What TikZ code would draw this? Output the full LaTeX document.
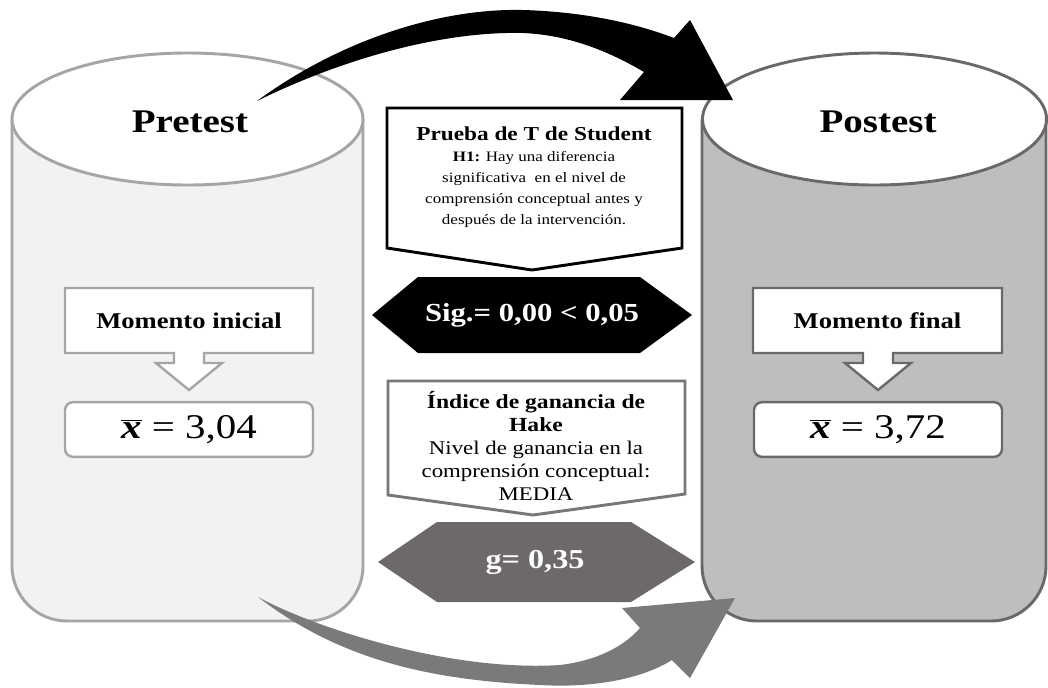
\documentclass[tikz,border=0pt]{standalone}
\usepackage{fontspec}
\setmainfont{Liberation Serif}[FakeStretch=1.18]
\definecolor{lcylfill}{HTML}{F2F2F2}
\definecolor{lcylline}{HTML}{A8A4A4}
\definecolor{rcylfill}{HTML}{BEBEBE}
\definecolor{rcylline}{HTML}{6D6868}
\definecolor{hexgray}{HTML}{6E6969}
\definecolor{arrgray}{HTML}{7A7A7A}
\definecolor{callgray}{HTML}{7A7676}
\begin{document}
\begin{tikzpicture}[x=0.75pt,y=-0.75pt,
  cylL/.style={fill=lcylfill,draw=lcylline,line width=2.2pt},
  cylR/.style={fill=rcylfill,draw=rcylline,line width=2.2pt},
  toptext/.style={font=\bfseries\fontsize{24.8}{28}\selectfont},
  momtext/.style={font=\bfseries\fontsize{16.9}{20}\selectfont},
  valbox/.style={draw=#1,fill=white,line width=1.8pt,rounded corners=6pt,
    minimum width=186pt,minimum height=41pt,inner sep=0pt,
    font=\fontsize{26}{30}\selectfont},
  callbox/.style={fill=white,draw=#1,line width=1.8pt,line join=miter},
  hexwhite/.style={text=white,font=\bfseries\fontsize{19.5}{22}\selectfont}
]
\useasboundingbox (0,0) rectangle (1048,687);

% ---------- left cylinder ----------
\filldraw[cylL,rounded corners=41.25pt] (12,119) -- (12,621) -- (363,621) -- (363,119);
\filldraw[fill=white,draw=lcylline,line width=2.2pt] (187.5,119) ellipse [x radius=175.5, y radius=66];
\node[toptext] (pre) at (190,122) {Pretest};

% ---------- right cylinder ----------
\filldraw[cylR,rounded corners=41.25pt] (702,119) -- (702,621) -- (1046,621) -- (1046,119);
\filldraw[fill=white,draw=rcylline,line width=2.2pt] (874.5,119) ellipse [x radius=172, y radius=66];
\node[toptext] (post) at (878,122) {Postest};

% ---------- inner callouts ----------
\filldraw[callbox=lcylline] (65,288) -- (313,288) -- (313,353) -- (204,353) -- (204,363)
  -- (222,363) -- (189,390) -- (156,363) -- (174,363) -- (174,353) -- (65,353) -- cycle;
\node[momtext] (mi) at (189,320.5) {Momento inicial};
\node[valbox=lcylline] (v1) at (189,429.5) {$\overline{\mbox{\textbf{\textit{x}}}}$ = 3,04};

\filldraw[callbox=rcylline] (753,288) -- (1002,288) -- (1002,353) -- (893,353) -- (893,363)
  -- (911,363) -- (878,390) -- (845,363) -- (863,363) -- (863,353) -- (753,353) -- cycle;
\node[momtext] (mf) at (877.5,320.5) {Momento final};
\node[valbox=rcylline] (v2) at (878,429.5) {$\overline{\mbox{\textbf{\textit{x}}}}$ = 3,72};

% ---------- centre: Student test ----------
\filldraw[callbox=black,line width=2.2pt] (387,108) -- (682,108) -- (682,248) -- (532,270) -- (387,248) -- cycle;
\node[align=center,font=\fontsize{10.8}{15.75}\selectfont] (tst) at (534,177)
  {{\bfseries\fontsize{14.8}{15.75}\selectfont Prueba de T de Student}\\
   \textbf{H1:} Hay una diferencia\\
   significativa\ \ en el nivel de\\
   comprensión conceptual antes y\\
   después de la intervención.};
\fill[black] (418,277) -- (640,277) -- (692,315) -- (640,353) -- (418,353) -- (372,315) -- cycle;
\node[hexwhite] (sig) at (532,315) {Sig.= 0,00 < 0,05};

% ---------- centre: Hake ----------
\filldraw[callbox=callgray,line width=2.2pt] (388,381) -- (685,381) -- (685,494) -- (533,515) -- (388,495) -- cycle;
\node[align=center,font=\fontsize{14.5}{17.25}\selectfont] (hk) at (536,446)
  {{\bfseries\fontsize{15}{17.25}\selectfont Índice de ganancia de}\\
   {\bfseries\fontsize{15}{17.25}\selectfont Hake}\\
   Nivel de ganancia en la\\
   comprensión conceptual:\\
   MEDIA};
\fill[hexgray] (437,522) -- (631,522) -- (695,562) -- (631,602) -- (437,602) -- (378,562) -- cycle;
\node[hexwhite,font=\bfseries\fontsize{20.5}{24}\selectfont] (g) at (535,562) {g= 0,35};

% ---------- black arrow (top) ----------
\coordinate (bt) at (257,101);
\fill[black] (bt) .. controls (340,40) and (440,8) .. (523,10)
  .. controls (590,12) and (640,25) .. (674,38)
  -- (690,20) -- (733,100) -- (620,100) -- (644,72)
  .. controls (610,52) and (570,35) .. (523,33)
  .. controls (440,31) and (340,60) .. (bt) -- cycle;

% ---------- gray arrow (bottom) ----------
\coordinate (gt) at (258,597);
\fill[arrgray] (gt) .. controls (315,628) and (450,672) .. (560,665)
  .. controls (600,660) and (625,645) .. (640,628)
  -- (622,608) -- (735,598) -- (690,678) -- (672,660)
  .. controls (640,680) and (590,688) .. (540,685)
  .. controls (430,680) and (340,660) .. (gt) -- cycle;
\end{tikzpicture}
\end{document}
